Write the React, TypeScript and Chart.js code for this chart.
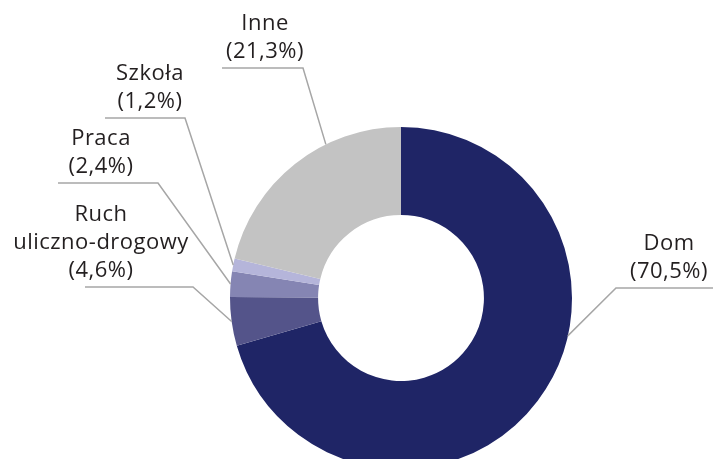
import React, { useEffect, useRef } from "react";
import { Chart, registerables } from "chart.js";

Chart.register(...registerables);

const categories = ["Dom", "Ruch uliczno-drogowy", "Praca", "Szkoła", "Inne"];
const categoryLines = [["Dom"], ["Ruch", "uliczno-drogowy"], ["Praca"], ["Szkoła"], ["Inne"]];
const values = [70.5, 4.6, 2.4, 1.2, 21.3];
const colors = ["#1f2566", "#54548a", "#8585b3", "#b5b5da", "#c3c3c3"];

// label layout (annotation placement): text centre x, underline y, underline x range, elbow side, anchor fraction within slice
const labelLayout = [
  { tx: 669, uy: 288, x0: 616, x1: 713, elbow: "left", frac: 0.405 },
  { tx: 101, uy: 287, x0: 85, x1: 193, elbow: "right", frac: 0.5 },
  { tx: 101, uy: 183, x0: 58, x1: 158, elbow: "right", frac: 0.5 },
  { tx: 150, uy: 118, x0: 105, x1: 185, elbow: "right", frac: 0.5 },
  { tx: 265, uy: 68, x0: 222, x1: 303, elbow: "right", frac: 0.66 },
];

const fmt = (v: number) => "(" + v.toFixed(1).replace(".", ",") + "%)";

const labelPlugin = {
  id: "leaderLabels",
  afterDraw(chart: any) {
    const ctx = chart.ctx;
    const meta = chart.getDatasetMeta(0);
    ctx.save();
    meta.data.forEach((arc: any, i: number) => {
      const L = labelLayout[i];
      const { x, y, startAngle, endAngle, outerRadius } = arc.getProps(
        ["x", "y", "startAngle", "endAngle", "outerRadius"],
        true
      );
      const a = startAngle + L.frac * (endAngle - startAngle);
      const ax = x + Math.cos(a) * outerRadius;
      const ay = y + Math.sin(a) * outerRadius;
      const ex = L.elbow === "left" ? L.x0 : L.x1;
      ctx.strokeStyle = "#a6a6a6";
      ctx.lineWidth = 1.5;
      ctx.beginPath();
      ctx.moveTo(L.elbow === "left" ? L.x1 : L.x0, L.uy);
      ctx.lineTo(ex, L.uy);
      ctx.lineTo(ax, ay);
      ctx.stroke();

      const lines = [...categoryLines[i], fmt(values[i])];
      ctx.fillStyle = "#231f20";
      ctx.font = "22px 'Open Sans', 'Noto Sans', sans-serif";
      try { (ctx as any).letterSpacing = "0.5px"; } catch (e) {}
      ctx.textAlign = "center";
      ctx.textBaseline = "middle";
      const n = lines.length;
      lines.forEach((t, k) => {
        ctx.fillText(t, L.tx, L.uy - 16 - (n - 1 - k) * 28);
      });
    });
    ctx.restore();
  },
};

export default function App() {
  const ref = useRef<HTMLCanvasElement>(null);
  useEffect(() => {
    document.body.style.margin = "0";
    const chart = new Chart(ref.current!, {
      type: "doughnut",
      data: {
        labels: categories,
        datasets: [
          {
            data: values,
            backgroundColor: colors,
            borderWidth: 0,
          },
        ],
      },
      options: {
        responsive: false,
        animation: false,
        cutout: "48.5%",
        layout: { padding: { left: 230, right: 141, top: 127, bottom: 1 } },
        plugins: { legend: { display: false }, tooltip: { enabled: false } },
      },
      plugins: [labelPlugin],
    });
    return () => chart.destroy();
  }, []);
  return (
    <div style={{ width: 713, height: 459, overflow: "hidden", background: "#fff" }}>
      <canvas ref={ref} width={713} height={470} />
    </div>
  );
}
